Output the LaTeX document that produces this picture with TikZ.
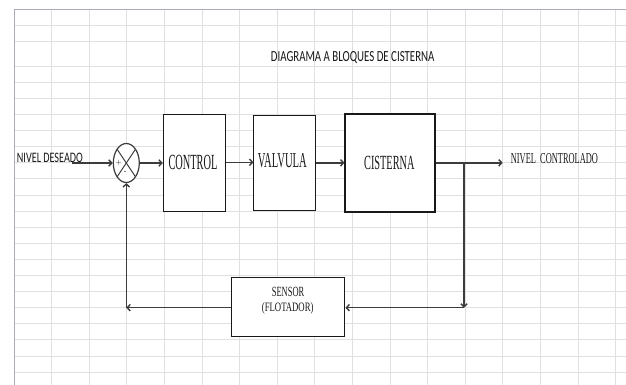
\documentclass[tikz,border=0pt]{standalone}
\usepackage{fontspec}
\usepackage{graphicx}
\usetikzlibrary{arrows.meta,shapes.geometric,calc}
\newfontfamily\calfont{Carlito}
\newfontfamily\serfont{Liberation Serif}
\newcommand\sqz[3]{\resizebox{#1pt}{#2pt}{#3}}
\definecolor{gridc}{HTML}{E0E0E0}
\definecolor{bordc}{HTML}{A9ADB5}
\definecolor{linec}{HTML}{3C3C3C}
\begin{document}
\begin{tikzpicture}[x=1pt,y=-1pt,
  gridline/.style={draw=gridc,line width=1pt},
  blockbox/.style={draw=black!90,fill=white,line width=1.05pt,inner sep=0pt},
  txt/.style={inner sep=0pt,anchor=base west,text=black!90},
  conn/.style={draw=linec,line width=1.4pt},
  arr/.style={conn,-{Straight Barb[length=3pt,width=6.5pt]}},
  sgn/.style={inner sep=0pt,font=\fontsize{7}{7}\selectfont}]
\useasboundingbox (0,0) rectangle (626,385);
\fill[white] (0,0) rectangle (626,385);
% grid
\foreach \k in {1,...,16} \draw[gridline] ({14+37.6*\k},10) -- ({14+37.6*\k},385);
\foreach \yy in {26,42,66.5} \draw[gridline] (14,\yy) -- (626,\yy);
\foreach \k in {0,...,18} \draw[gridline] (14,{82.3+16.1*\k}) -- (626,{82.3+16.1*\k});
\draw[draw=bordc,line width=1pt] (14,385) -- (14,10) -- (626,10);
% title
\node[txt] (title) at (270.7,61.7) {\calfont\sqz{163.6}{10}{DIAGRAMA A BLOQUES DE CISTERNA}};
% blocks
\node[blockbox,minimum width=62.4,minimum height=96.7] (ctrl) at (194.5,163.3) {};
\node[blockbox,minimum width=61.3,minimum height=94.3] (valv) at (284.6,162.9) {};
\node[blockbox,minimum width=90,minimum height=98] (cist) at (390,163) {};
\node[blockbox,minimum width=113.3,minimum height=58.3] (sens) at (288.3,306.9) {};
\node[ellipse,draw=linec,fill=white,line width=1.2pt,minimum width=26,minimum height=39,inner sep=0pt] (sum) at (126.3,163) {};
\draw[draw=linec,line width=1pt] ($(sum.center)+(-9.2,-13.8)$) -- ($(sum.center)+(9.2,13.8)$);
\draw[draw=linec,line width=1pt] ($(sum.center)+(9.2,-13.8)$) -- ($(sum.center)+(-9.2,13.8)$);
\node[sgn] (plus) at (118.6,162.5) {+};
\node[sgn] (minus) at (125.2,172.2) {-};
% texts
\node[txt] (tin) at (16.7,162.7) {\calfont\sqz{66}{9.4}{NIVEL DESEADO}};
\node[txt] (tctrl) at (168.3,169.3) {\serfont\sqz{49}{14.3}{CONTROL}};
\node[txt] (tvalv) at (257.7,167.3) {\serfont\sqz{49}{14}{VALVULA}};
\node[txt] (tcist) at (364,169.3) {\serfont\sqz{50.3}{13.3}{CISTERNA}};
\node[txt] (tout) at (510.7,164) {\serfont\sqz{87}{10}{NIVEL\ \ CONTROLADO}};
\node[txt] (tsen1) at (271.7,296) {\serfont\sqz{32.3}{9.3}{SENSOR}};
\node[txt] (tsen2) at (261.7,311.7) {\serfont\sqz{51.6}{8.9}{(FLOTADOR)}};
% connectors
\coordinate (in) at (72,163);
\coordinate (out) at (502.7,162.8);
\coordinate (br) at (464,162.8);
\coordinate (cr) at (464,307.7);
\coordinate (cl) at (126.3,307.7);
\draw[arr] (in) -- (sum.west);
\draw[arr] (sum.east) -- (sum.east -| ctrl.west);
\draw[arr] (ctrl.east |- 0,162.3) -- (valv.west |- 0,162.3);
\draw[arr] (valv.east |- 0,162.8) -- (cist.west |- 0,162.8);
\draw[arr] (cist.east |- out) -- (out);
\draw[arr] (br) -- (cr);
\draw[arr] (cr) -- (sens.east |- cr);
\draw[arr] (sens.west |- cl) -- (cl);
\draw[arr] (cl) -- (sum.south);
\end{tikzpicture}
\end{document}
